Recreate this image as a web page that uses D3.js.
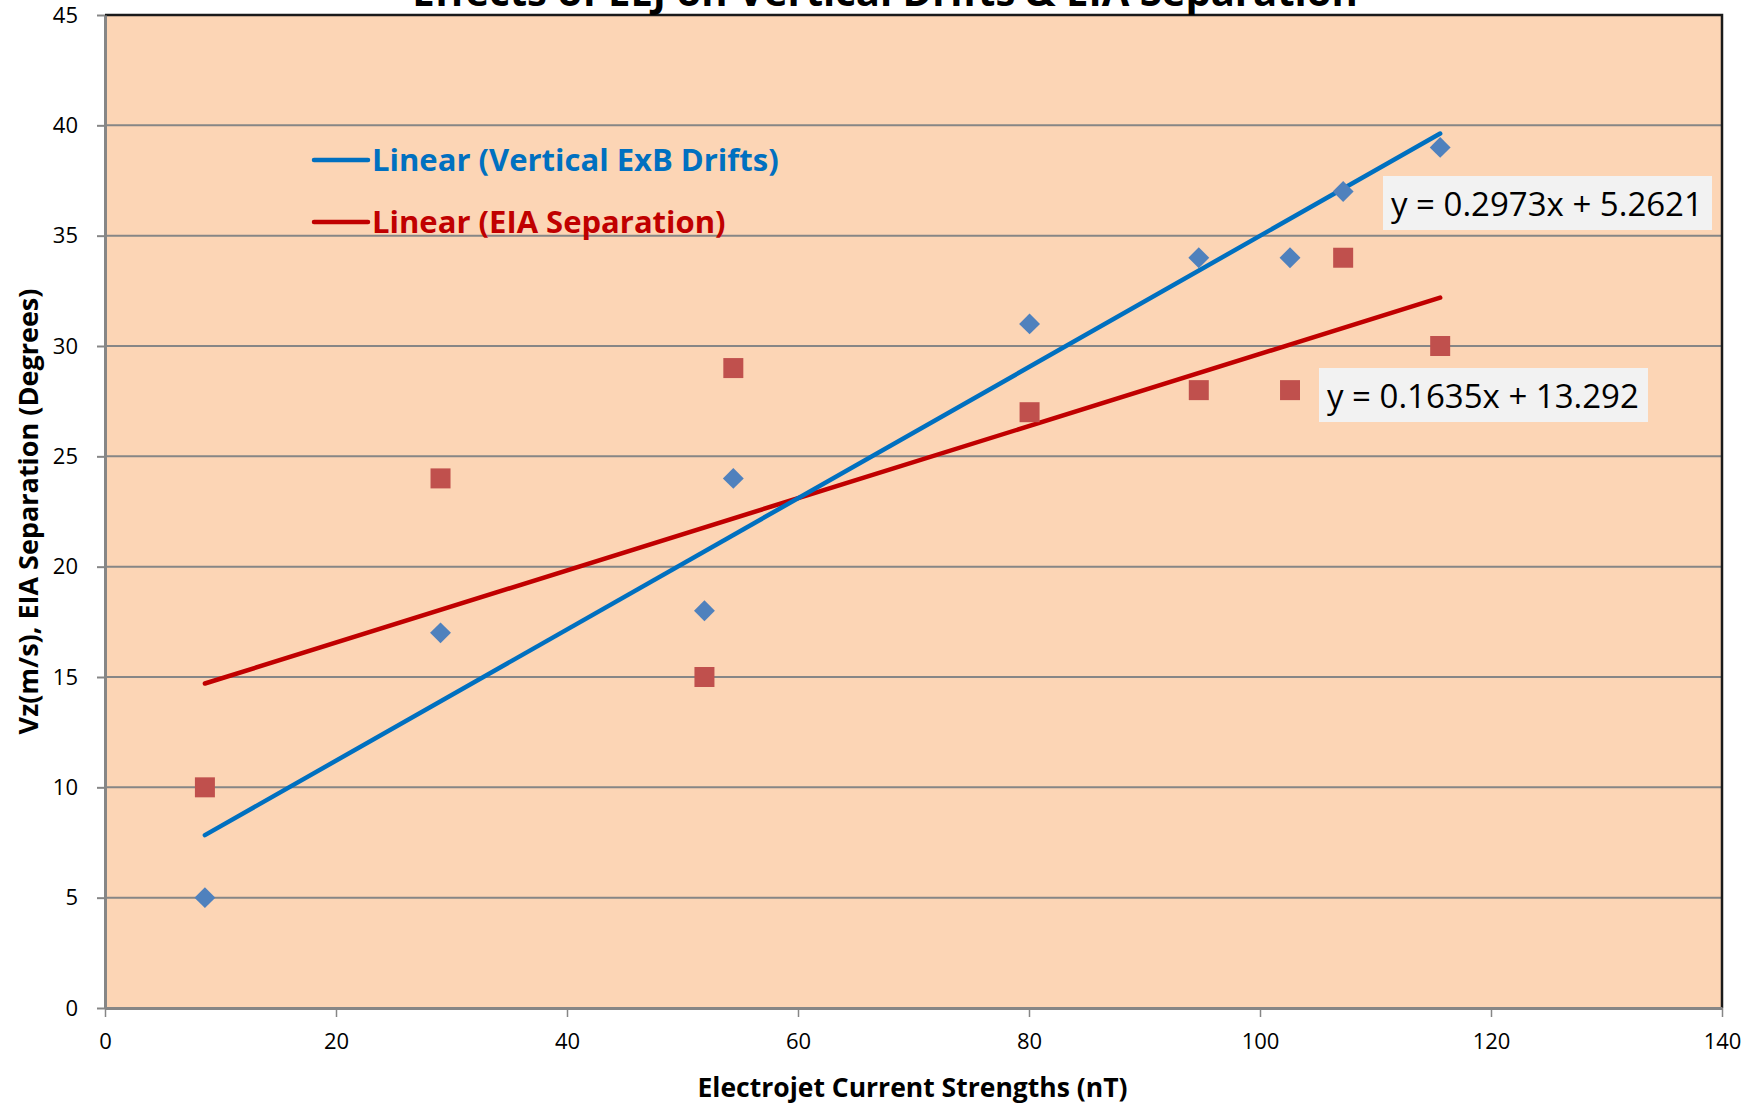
<!DOCTYPE html>
<html>
<head>
<meta charset="utf-8">
<script src="https://cdn.jsdelivr.net/npm/d3@7"></script>
<style>
  html, body { margin: 0; padding: 0; background: #ffffff; }
  svg { display: block; }
  text { font-family: "Open Sans", "Noto Sans", sans-serif; }
</style>
</head>
<body>
<svg id="chart" width="1760" height="1104"></svg>
<script>
// Electrojet current strength (nT) for each event
const currentStrength = [8.65, 29.05, 51.9, 54.4, 80.05, 94.7, 102.6, 107.2, 115.6];
// Vertical ExB drift Vz (m/s)
const verticalDrift = [5, 17, 18, 24, 31, 34, 34, 37, 39];
// EIA crest separation (degrees)
const eiaSeparation = [10, 24, 15, 29, 27, 28, 28, 34, 30];

// Least-squares fits shown on the chart
const driftFit = { slope: 0.2973, intercept: 5.2621 };
const eiaFit = { slope: 0.1635, intercept: 13.292 };

const xTicks = [0, 20, 40, 60, 80, 100, 120, 140];
const yTicks = [0, 5, 10, 15, 20, 25, 30, 35, 40, 45];

const seriesNames = ["Linear (Vertical ExB Drifts)", "Linear (EIA Separation)"];
const chartTitle = "Effects of EEJ on Vertical Drifts & EIA Separation";
const xTitle = "Electrojet Current Strengths (nT)";
const yTitle = "Vz(m/s), EIA Separation (Degrees)";

const W = 1760, H = 1104;
const margin = { top: 15, right: 38, bottom: 96, left: 105 };
const plotW = W - margin.left - margin.right;
const plotH = H - margin.top - margin.bottom;

const colors = {
  plotBg: "#FCD5B5",
  grid: "#868686",
  frame: "#1a1a1a",
  driftMarker: "#4F81BD",
  eiaMarker: "#C0504D",
  driftLine: "#0070C0",
  eiaLine: "#C00000",
  eqBox: "#F2F2F2"
};

const svg = d3.select("#chart");

const x = d3.scaleLinear().domain([0, 140]).range([0, plotW]);
const y = d3.scaleLinear().domain([0, 45]).range([plotH, 0]);

const g = svg.append("g").attr("transform", `translate(${margin.left},${margin.top})`);

// title (sits partly above the top edge of the canvas)
svg.append("text")
  .attr("x", 885).attr("y", 6)
  .attr("text-anchor", "middle")
  .attr("font-size", 40).attr("font-weight", 700)
  .attr("fill", "#000")
  .text(chartTitle);

// plot background
g.append("rect")
  .attr("x", 0).attr("y", 0)
  .attr("width", plotW).attr("height", plotH)
  .attr("fill", colors.plotBg);

// horizontal gridlines
g.append("g")
  .selectAll("line")
  .data(yTicks.filter(v => v > 0 && v < 45))
  .join("line")
  .attr("x1", 0).attr("x2", plotW)
  .attr("y1", d => y(d)).attr("y2", d => y(d))
  .attr("stroke", colors.grid).attr("stroke-width", 2);

// top and right frame
g.append("path")
  .attr("d", `M0,${y(45)}H${plotW}V${plotH}`)
  .attr("fill", "none")
  .attr("stroke", colors.frame).attr("stroke-width", 2.5);

// y axis
const yAxis = g.append("g")
  .call(d3.axisLeft(y).tickValues(yTicks).tickSize(8).tickPadding(19).tickSizeOuter(0));
yAxis.select(".domain").attr("stroke", colors.grid).attr("stroke-width", 3);
yAxis.selectAll(".tick line").attr("stroke", colors.grid).attr("stroke-width", 2);
yAxis.selectAll(".tick text")
  .attr("font-family", "'Open Sans', sans-serif")
  .attr("font-size", 22).attr("fill", "#000");

// x axis
const xAxis = g.append("g")
  .attr("transform", `translate(0,${plotH})`)
  .call(d3.axisBottom(x).tickValues(xTicks).tickSize(9).tickPadding(16).tickSizeOuter(0));
xAxis.select(".domain").attr("stroke", colors.grid).attr("stroke-width", 3);
xAxis.selectAll(".tick line").attr("stroke", colors.grid).attr("stroke-width", 1.5);
xAxis.selectAll(".tick text")
  .attr("font-family", "'Open Sans', sans-serif")
  .attr("font-size", 22).attr("fill", "#000");

// axis titles
svg.append("text")
  .attr("x", margin.left + plotW / 2 - 1).attr("y", 1097)
  .attr("text-anchor", "middle")
  .attr("font-size", 26.5).attr("font-weight", 700).attr("fill", "#000")
  .text(xTitle);

svg.append("text")
  .attr("transform", `translate(38,${margin.top + plotH / 2}) rotate(-90)`)
  .attr("text-anchor", "middle")
  .attr("font-size", 27).attr("font-weight", 700).attr("fill", "#000")
  .text(yTitle);

// trend lines over the span of the observations
const xExtent = d3.extent(currentStrength);
const line = d3.line().x(d => x(d[0])).y(d => y(d[1]));
function fitPoints(fit) {
  return xExtent.map(v => [v, fit.slope * v + fit.intercept]);
}
g.append("path")
  .attr("d", line(fitPoints(eiaFit)))
  .attr("fill", "none").attr("stroke", colors.eiaLine)
  .attr("stroke-width", 4.5).attr("stroke-linecap", "round");
g.append("path")
  .attr("d", line(fitPoints(driftFit)))
  .attr("fill", "none").attr("stroke", colors.driftLine)
  .attr("stroke-width", 4.5).attr("stroke-linecap", "round");

// markers: squares for EIA separation, diamonds for vertical drifts
const squareSym = d3.symbol().type(d3.symbolSquare).size(400);
const diamondSym = d3.symbol().type(d3.symbolSquare).size(218);

g.append("g")
  .selectAll("path")
  .data(currentStrength.map((v, i) => [v, eiaSeparation[i]]))
  .join("path")
  .attr("transform", d => `translate(${x(d[0])},${y(d[1])})`)
  .attr("d", squareSym)
  .attr("fill", colors.eiaMarker);

g.append("g")
  .selectAll("path")
  .data(currentStrength.map((v, i) => [v, verticalDrift[i]]))
  .join("path")
  .attr("transform", d => `translate(${x(d[0])},${y(d[1])}) rotate(45)`)
  .attr("d", diamondSym)
  .attr("fill", colors.driftMarker);

// legend
const legend = svg.append("g");
const legendRows = [
  { name: seriesNames[0], color: colors.driftLine, yLine: 160, yText: 171 },
  { name: seriesNames[1], color: colors.eiaLine, yLine: 222, yText: 233 }
];
legendRows.forEach(r => {
  legend.append("line")
    .attr("x1", 314).attr("x2", 368)
    .attr("y1", r.yLine).attr("y2", r.yLine)
    .attr("stroke", r.color).attr("stroke-width", 4.5).attr("stroke-linecap", "round");
  legend.append("text")
    .attr("x", 372).attr("y", r.yText)
    .attr("font-size", 31).attr("font-weight", 700)
    .attr("fill", r.color)
    .text(r.name);
});

// regression equation labels
function fmtEq(fit) {
  return `y = ${fit.slope}x + ${fit.intercept}`;
}
const eqLabels = [
  { text: fmtEq(driftFit), bx: 1383, by: 176, bw: 329, bh: 54 },
  { text: fmtEq(eiaFit), bx: 1319, by: 368, bw: 329, bh: 54 }
];
eqLabels.forEach(e => {
  svg.append("rect")
    .attr("x", e.bx).attr("y", e.by)
    .attr("width", e.bw).attr("height", e.bh)
    .attr("fill", colors.eqBox);
  svg.append("text")
    .attr("x", e.bx + 8).attr("y", e.by + 40)
    .attr("font-size", 33).attr("fill", "#000")
    .text(e.text);
});
</script>
</body>
</html>
